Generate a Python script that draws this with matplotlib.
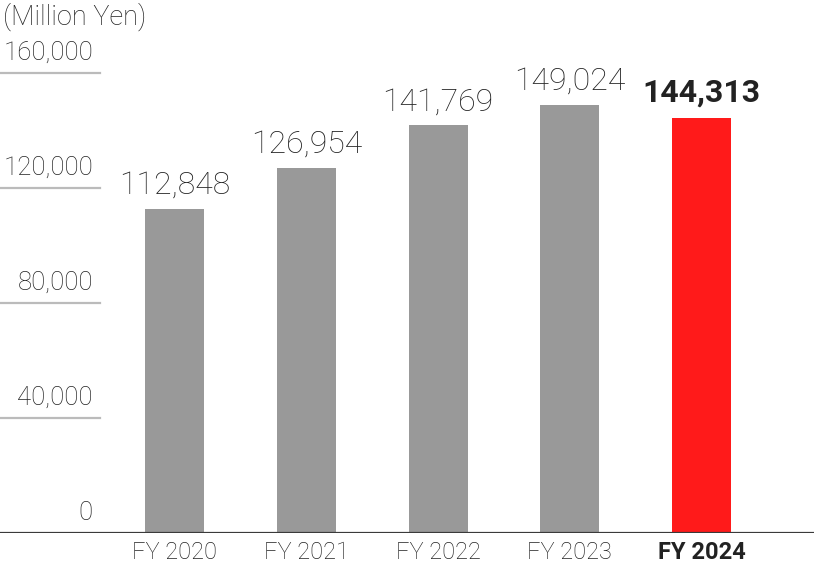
import matplotlib
matplotlib.use("Agg")
import matplotlib.pyplot as plt
from matplotlib import transforms

categories = ["FY 2020", "FY 2021", "FY 2022", "FY 2023", "FY 2024"]
values = [112848, 126954, 141769, 149024, 144313]
value_labels = ["112,848", "126,954", "141,769", "149,024", "144,313"]
yticks = [0, 40000, 80000, 120000, 160000]
ytick_labels = ["0", "40,000", "80,000", "120,000", "160,000"]
unit_label = "(Million Yen)"

W, H = 814, 588
fig = plt.figure(figsize=(W / 100, H / 100), dpi=100)
plt.rcParams["font.family"] = ["Roboto", "DejaVu Sans"]

base_y = 533
top_y = 73
ax = fig.add_axes([0, (H - base_y) / H, 1, (base_y - top_y) / H])
ax.set_ylim(0, 160000)
c0, step = 174.5, 131.75
ax.set_xlim(-c0 / step, (W - c0) / step)
ax.axis("off")

gray = "#999999"
red = "#ff1a1a"
txt = "#222222"
colors = [gray] * 4 + [red]
xs = list(range(len(categories)))
ax.bar(xs, values, width=59 / step, color=colors, zorder=2)

# baseline
ax.axhline(0, color="#3a3a3a", lw=1.6, zorder=3)

# tick lines + labels
blend = transforms.blended_transform_factory(ax.transAxes, ax.transData)
for v, lab in zip(yticks, ytick_labels):
    if v != 0:
        ax.plot([0, 100 / W], [v, v], transform=blend, color="#bbbbbb", lw=1.6, clip_on=False)
    tr = transforms.offset_copy(blend, fig=fig, x=0, y=13, units="dots")
    ax.text(93 / W, v, lab, transform=tr, ha="right", va="baseline",
            fontsize=18.5, color=txt, fontweight="light")

# value labels
for i, (v, lab) in enumerate(zip(values, value_labels)):
    last = i == len(values) - 1
    tr = transforms.offset_copy(ax.transData, fig=fig, x=0, y=17 if last else 15, units="dots")
    ax.text(i, v, lab, transform=tr, ha="center", va="baseline",
            fontsize=23, color=txt,
            fontweight="bold" if last else "light")

# category labels
for i, lab in enumerate(categories):
    last = i == len(categories) - 1
    tr = transforms.offset_copy(ax.transData, fig=fig, x=0, y=-26, units="dots")
    ax.text(i, 0, lab, transform=tr, ha="center", va="baseline",
            fontsize=17, color=txt,
            fontweight="bold" if last else "light")

fig.text(3 / W, 1 - 25 / H, unit_label, ha="left", va="baseline",
         fontsize=19.5, color=txt, fontweight="light")

fig.savefig("out.png", dpi=100)
